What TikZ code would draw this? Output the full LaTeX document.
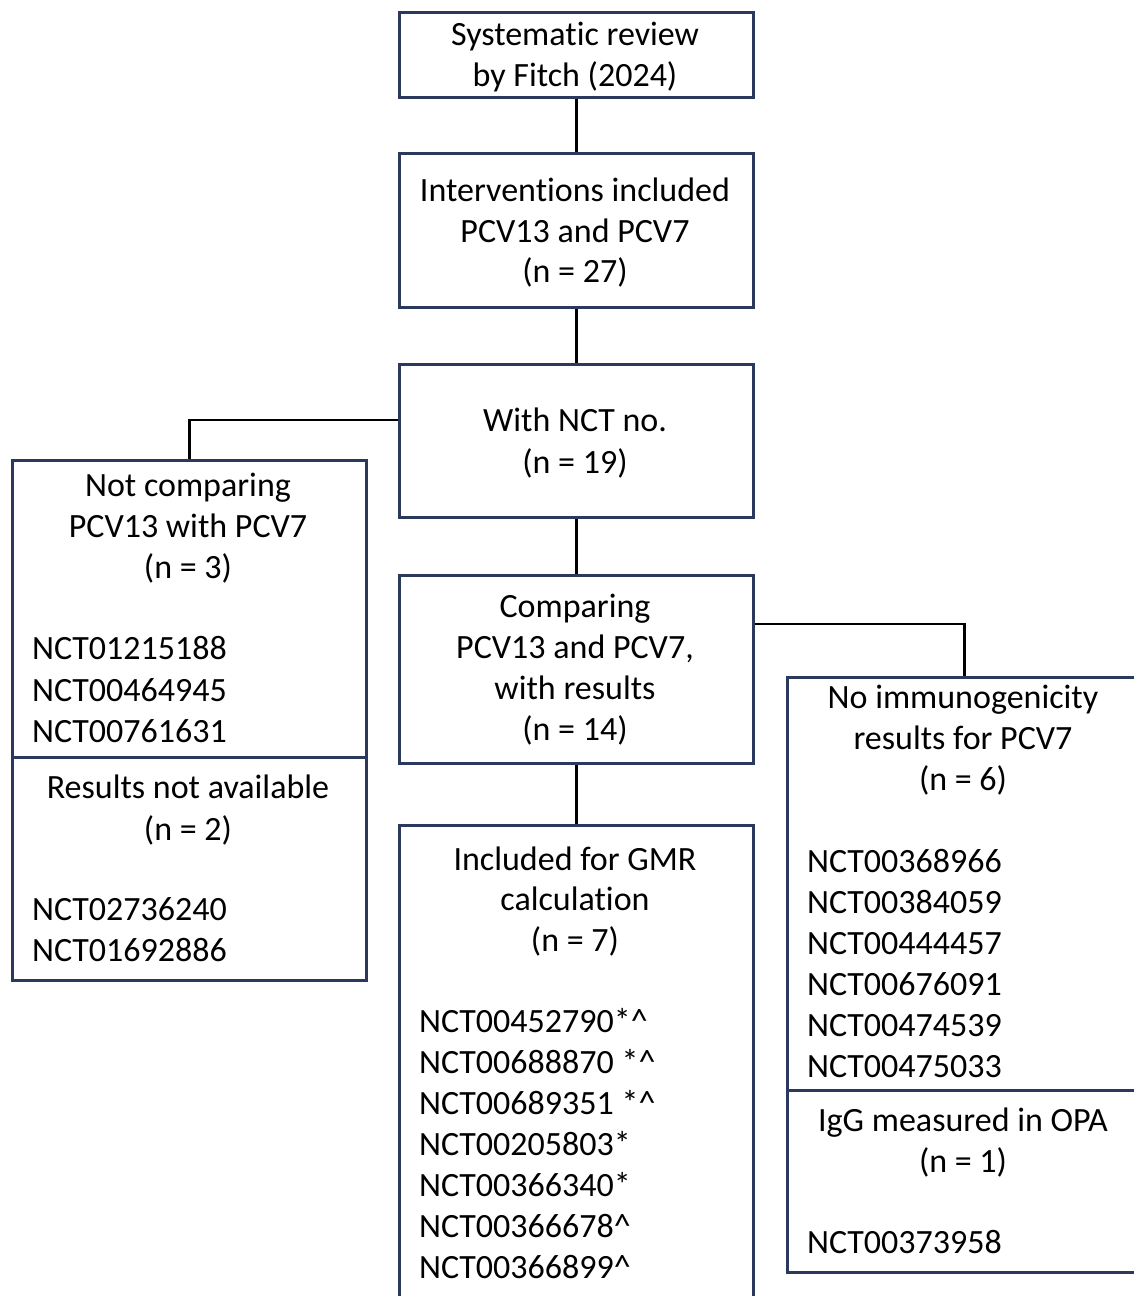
\documentclass[tikz,border=0pt]{standalone}
\usepackage{fontspec}
\setmainfont{Carlito}[Ligatures={NoCommon}]
\usetikzlibrary{calc}
\definecolor{boxc}{HTML}{2B3A5C}
\begin{document}
\begin{tikzpicture}[x=1pt,y=-1pt,
  box/.style={draw=boxc,line width=2.8pt,fill=none,inner sep=0pt,anchor=north west},
  conn/.style={draw=black,line width=2.8pt},
  lbl/.style={inner sep=0pt,font=\fontsize{34}{41}\selectfont,anchor=base},
  lst/.style={inner sep=0pt,font=\fontsize{34}{41}\selectfont,anchor=base west}]
\useasboundingbox (0,0) rectangle (1134,1296);
\clip (0,0) rectangle (1134,1296);
\fill[white] (0,0) rectangle (1134,1296);
% boxes
\node[box,minimum width=354pt,minimum height=85pt] (b1) at (398,11) {};
\node[box,minimum width=354pt,minimum height=154pt] (b2) at (398,152) {};
\node[box,minimum width=354pt,minimum height=153pt] (b3) at (398,363) {};
\node[box,minimum width=354pt,minimum height=297pt] (lt) at (11,459) {};
\node[box,minimum width=354pt,minimum height=223pt] (lb) at (11,756) {};
\node[box,minimum width=354pt,minimum height=188pt] (b4) at (398,574) {};
\node[box,minimum width=354pt,minimum height=520pt] (b5) at (398,824) {};
\node[box,minimum width=354pt,minimum height=413pt] (rt) at (786,676) {};
\node[box,minimum width=354pt,minimum height=182pt] (rb) at (786,1089) {};
% connectors
\draw[conn] (b1.south) -- (b2.north);
\draw[conn] (b2.south) -- (b3.north);
\draw[conn] ([yshift=-57pt]b3.north west) -| (lt.north);
\draw[conn] (b3.south) -- (b4.north);
\draw[conn] (b4.south) -- (b5.north);
\draw[conn] ([yshift=-50pt]b4.north east) -| (rt.north);
% texts
\node[lbl] (t11) at (575,45) {Systematic review};
\node[lbl] (t12) at (575,86) {by Fitch (2024)};
\node[lbl] (t21) at (575,201) {Interventions included};
\node[lbl] (t22) at (575,242) {PCV13 and PCV7};
\node[lbl] (t23) at (575,282) {(n = 27)};
\node[lbl] (t31) at (575,431) {With NCT no.};
\node[lbl] (t32) at (575,473) {(n = 19)};
\node[lbl] (l1) at (188,496) {Not comparing};
\node[lbl] (l2) at (188,537) {PCV13 with PCV7};
\node[lbl] (l3) at (188,578) {(n = 3)};
\node[lst] (l4) at (32,659) {NCT01215188};
\node[lst] (l5) at (32,701) {NCT00464945};
\node[lst] (l6) at (32,742) {NCT00761631};
\node[lbl] (m1) at (188,798) {Results not available};
\node[lbl] (m2) at (188,840) {(n = 2)};
\node[lst] (m3) at (32,920) {NCT02736240};
\node[lst] (m4) at (32,961) {NCT01692886};
\node[lbl] (t41) at (575,617) {Comparing};
\node[lbl] (t42) at (575,658) {PCV13 and PCV7,};
\node[lbl] (t43) at (575,699) {with results};
\node[lbl] (t44) at (575,740) {(n = 14)};
\node[lbl] (r1) at (963,708) {No immunogenicity};
\node[lbl] (r2) at (963,749) {results for PCV7};
\node[lbl] (r3) at (963,790) {(n = 6)};
\node[lst] (r4) at (807,872) {NCT00368966};
\node[lst] (r5) at (807,913) {NCT00384059};
\node[lst] (r6) at (807,954) {NCT00444457};
\node[lst] (r7) at (807,995) {NCT00676091};
\node[lst] (r8) at (807,1036) {NCT00474539};
\node[lst] (r9) at (807,1077) {NCT00475033};
\node[lbl] (s1) at (963,1131) {IgG measured in OPA};
\node[lbl] (s2) at (963,1172) {(n = 1)};
\node[lst] (s3) at (807,1253) {NCT00373958};
\node[lbl] (t51) at (575,870) {Included for GMR};
\node[lbl] (t52) at (575,910) {calculation};
\node[lbl] (t53) at (575,951) {(n = 7)};
\node[lst] (g1) at (419,1032) {NCT00452790*\textasciicircum};
\node[lst] (g2) at (419,1073) {NCT00688870 *\textasciicircum};
\node[lst] (g3) at (419,1114) {NCT00689351 *\textasciicircum};
\node[lst] (g4) at (419,1155) {NCT00205803*};
\node[lst] (g5) at (419,1196) {NCT00366340*};
\node[lst] (g6) at (419,1237) {NCT00366678\textasciicircum};
\node[lst] (g7) at (419,1278) {NCT00366899\textasciicircum};
\end{tikzpicture}
\end{document}
